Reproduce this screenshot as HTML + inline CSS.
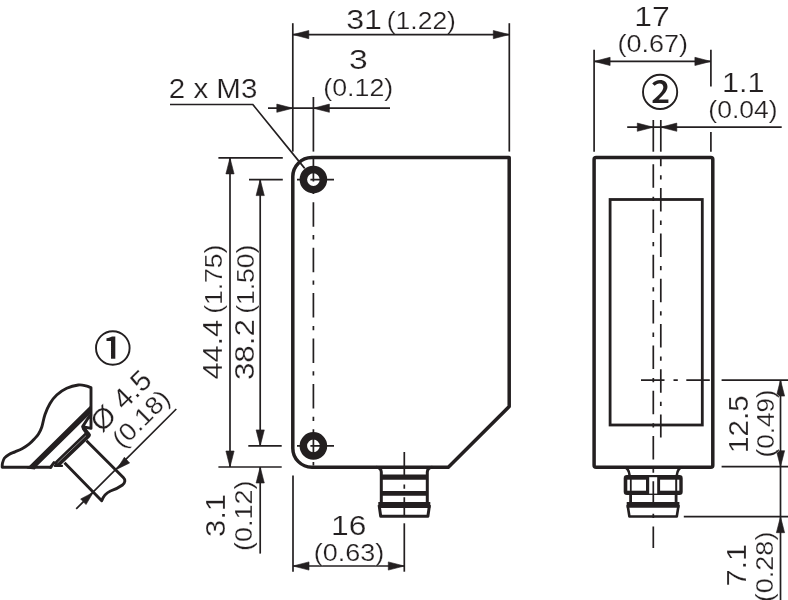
<!DOCTYPE html>
<html lang="en"><head><meta charset="utf-8"><title>Dimensional drawing</title>
<style>
html,body{margin:0;padding:0;background:#fff;}
body{width:788px;height:600px;overflow:hidden;}
svg{display:block;will-change:transform;}
svg text{font-family:"Liberation Sans",sans-serif;fill:#231f20;stroke:#fff;stroke-width:0.22px;}
svg text.c{font-family:"Liberation Sans","Noto Sans CJK JP",sans-serif;font-weight:500;stroke:none;}
</style></head><body>
<svg width="788" height="600" viewBox="0 0 788 600" fill="none" stroke="#231f20">
<rect x="0" y="0" width="788" height="600" fill="#fff" stroke="none"/>
<path d="M311.8,157.6 H509.2 V406.5 L448.3,467.2 H311.8 A19,19 0 0 1 292.8,448.2 V176.6 A19,19 0 0 1 311.8,157.6 Z" stroke-width="3.5" fill="none" stroke-linejoin="round"/>
<line x1="313.4" y1="156.9" x2="313.4" y2="465.5" stroke-width="1.7" stroke-dasharray="24.5 8.3 4.3 8.3"/>
<line x1="297" y1="179.6" x2="334" y2="179.6" stroke-width="1.7" stroke-dasharray="9 4.4 30"/>
<circle cx="313.4" cy="179.6" r="10.05" stroke-width="7.5"/>
<line x1="297" y1="445.9" x2="334" y2="445.9" stroke-width="1.7" stroke-dasharray="9 4.4 30"/>
<circle cx="313.4" cy="445.9" r="10.05" stroke-width="7.5"/>
<line x1="292.8" y1="23.2" x2="292.8" y2="151.6" stroke-width="1.7"/>
<line x1="313.4" y1="97" x2="313.4" y2="151.6" stroke-width="1.7"/>
<line x1="509.3" y1="23.2" x2="509.3" y2="151.6" stroke-width="1.7"/>
<line x1="292.8" y1="34.6" x2="509.3" y2="34.6" stroke-width="1.7"/>
<polygon points="292.80,34.60 308.80,38.70 308.80,30.50" fill="#231f20" stroke="#231f20" stroke-width="0.6" stroke-linejoin="round"/>
<polygon points="509.30,34.60 493.30,30.50 493.30,38.70" fill="#231f20" stroke="#231f20" stroke-width="0.6" stroke-linejoin="round"/>
<line x1="268" y1="108.2" x2="390" y2="108.2" stroke-width="1.7"/>
<polygon points="292.80,108.20 276.80,104.10 276.80,112.30" fill="#231f20" stroke="#231f20" stroke-width="0.6" stroke-linejoin="round"/>
<polygon points="313.40,108.20 329.40,112.30 329.40,104.10" fill="#231f20" stroke="#231f20" stroke-width="0.6" stroke-linejoin="round"/>
<path d="M170,104.5 H252.8 L304.7,168.4" stroke-width="1.7" fill="none" />
<line x1="218.4" y1="157.9" x2="282.8" y2="157.9" stroke-width="1.7"/>
<line x1="249" y1="179.6" x2="282.8" y2="179.6" stroke-width="1.7"/>
<line x1="248.3" y1="445.9" x2="281.7" y2="445.9" stroke-width="1.7"/>
<line x1="218.4" y1="467" x2="281.7" y2="467" stroke-width="1.7"/>
<line x1="230.0" y1="157.9" x2="230.0" y2="467" stroke-width="1.7"/>
<polygon points="230.00,157.90 225.90,173.90 234.10,173.90" fill="#231f20" stroke="#231f20" stroke-width="0.6" stroke-linejoin="round"/>
<polygon points="230.00,467.00 234.10,451.00 225.90,451.00" fill="#231f20" stroke="#231f20" stroke-width="0.6" stroke-linejoin="round"/>
<line x1="260.2" y1="179.6" x2="260.2" y2="445.9" stroke-width="1.7"/>
<polygon points="260.20,179.60 256.10,195.60 264.30,195.60" fill="#231f20" stroke="#231f20" stroke-width="0.6" stroke-linejoin="round"/>
<polygon points="260.20,445.90 264.30,429.90 256.10,429.90" fill="#231f20" stroke="#231f20" stroke-width="0.6" stroke-linejoin="round"/>
<line x1="260.2" y1="467" x2="260.2" y2="553.6" stroke-width="1.7"/>
<polygon points="260.20,467.00 256.10,483.00 264.30,483.00" fill="#231f20" stroke="#231f20" stroke-width="0.6" stroke-linejoin="round"/>
<line x1="293.0" y1="475.6" x2="293.0" y2="571.7" stroke-width="1.7"/>
<line x1="404.3" y1="523.3" x2="404.3" y2="571.7" stroke-width="1.7"/>
<line x1="293.0" y1="566" x2="404.3" y2="566" stroke-width="1.7"/>
<polygon points="293.00,566.00 309.00,570.10 309.00,561.90" fill="#231f20" stroke="#231f20" stroke-width="0.6" stroke-linejoin="round"/>
<polygon points="404.30,566.00 388.30,561.90 388.30,570.10" fill="#231f20" stroke="#231f20" stroke-width="0.6" stroke-linejoin="round"/>
<path d="M376.3,467.2 Q381.1,467.5 381.3,472 V504 M432.3,467.2 Q427.5,467.5 427.3,472 V504" stroke-width="3.0" fill="none" />
<line x1="381.3" y1="477.2" x2="427.3" y2="477.2" stroke-width="5.2"/>
<line x1="381.3" y1="493.4" x2="427.3" y2="493.4" stroke-width="4.7"/>
<line x1="378.3" y1="505" x2="430.3" y2="505" stroke-width="5.8"/>
<path d="M379.1,505 L380.7,516.3 H427.90000000000003 L429.5,505" stroke-width="3.0" fill="none" stroke-linejoin="round"/>
<line x1="404.3" y1="452" x2="404.3" y2="517" stroke-width="1.7" stroke-dasharray="23.5 9 4.3 8.5"/>
<rect x="594.1" y="157.6" width="118.69999999999993" height="309.6" rx="2" stroke-width="3.5"/>
<rect x="610.1" y="199.5" width="92.19999999999993" height="225.5" stroke-width="2.8"/>
<line x1="594.1" y1="49.7" x2="594.1" y2="151.8" stroke-width="1.7"/>
<line x1="710.9" y1="49.7" x2="710.9" y2="86.6" stroke-width="1.7"/>
<line x1="710.9" y1="132" x2="710.9" y2="151.8" stroke-width="1.7"/>
<line x1="594.1" y1="61.4" x2="710.9" y2="61.4" stroke-width="1.7"/>
<polygon points="594.10,61.40 610.10,65.50 610.10,57.30" fill="#231f20" stroke="#231f20" stroke-width="0.6" stroke-linejoin="round"/>
<polygon points="710.90,61.40 694.90,57.30 694.90,65.50" fill="#231f20" stroke="#231f20" stroke-width="0.6" stroke-linejoin="round"/>
<line x1="653.3" y1="120" x2="653.3" y2="151.7" stroke-width="1.7"/>
<line x1="660.8" y1="120" x2="660.8" y2="151.7" stroke-width="1.7"/>
<line x1="627.2" y1="127.2" x2="781.7" y2="127.2" stroke-width="1.7"/>
<polygon points="653.30,127.20 637.30,123.10 637.30,131.30" fill="#231f20" stroke="#231f20" stroke-width="0.6" stroke-linejoin="round"/>
<polygon points="660.80,127.20 676.80,131.30 676.80,123.10" fill="#231f20" stroke="#231f20" stroke-width="0.6" stroke-linejoin="round"/>
<line x1="660.8" y1="156.7" x2="660.8" y2="437.6" stroke-width="1.7" stroke-dasharray="23.5 9 4.3 8.5" stroke-dashoffset="13.9"/>
<line x1="641" y1="380.1" x2="710" y2="380.1" stroke-width="1.7" stroke-dasharray="23.5 9 4.3 8.5"/>
<line x1="721.6" y1="380.1" x2="788" y2="380.1" stroke-width="1.7"/>
<line x1="721.6" y1="466.7" x2="788" y2="466.7" stroke-width="1.7"/>
<line x1="683.8" y1="516.7" x2="788" y2="516.7" stroke-width="1.7"/>
<line x1="780.5" y1="380.1" x2="780.5" y2="600" stroke-width="1.7"/>
<polygon points="780.50,380.10 776.40,396.10 784.60,396.10" fill="#231f20" stroke="#231f20" stroke-width="0.6" stroke-linejoin="round"/>
<polygon points="780.50,466.70 784.60,450.70 776.40,450.70" fill="#231f20" stroke="#231f20" stroke-width="0.6" stroke-linejoin="round"/>
<polygon points="780.50,516.70 776.40,532.70 784.60,532.70" fill="#231f20" stroke="#231f20" stroke-width="0.6" stroke-linejoin="round"/>
<path d="M623.7,467.2 Q628.8000000000001,467.5 629.6,475.5 M682.7,467.2 Q677.6,467.5 676.8000000000001,475.5" stroke-width="2.6" fill="none" />
<rect x="623.7" y="475" width="59" height="20" rx="3.2" fill="#231f20" stroke="none"/>
<rect x="627.30" y="479.7" width="2.60" height="11" fill="#fff" stroke="none"/>
<rect x="631.70" y="479.7" width="14.30" height="11" fill="#fff" stroke="none"/>
<rect x="660.10" y="479.7" width="15.10" height="11" fill="#fff" stroke="none"/>
<rect x="677.20" y="479.7" width="2.10" height="11" fill="#fff" stroke="none"/>
<rect x="649.2" y="477.2" width="8" height="16.4" fill="#fff" stroke="none"/>
<line x1="630.6" y1="494" x2="630.6" y2="503" stroke-width="2.8"/>
<line x1="676.1" y1="494" x2="676.1" y2="503" stroke-width="2.8"/>
<line x1="626.7" y1="504.8" x2="679.4000000000001" y2="504.8" stroke-width="5.8"/>
<path d="M627.6,505 L629.4000000000001,516.5 H676.8000000000001 L678.6,505" stroke-width="2.6" fill="none" stroke-linejoin="round"/>
<line x1="653.3" y1="164.2" x2="653.3" y2="548" stroke-width="1.7" stroke-dasharray="23.5 9 4.3 8.5"/>
<path d="M51,467.3 L2.2,467.2 C2.25,466.50 2.12,464.53 2.5,463 C2.88,461.47 3.42,459.43 4.5,458 C5.58,456.57 7.25,455.43 9,454.4 C10.75,453.37 12.83,452.73 15,451.8 C17.17,450.87 19.67,450.07 22,448.8 C24.33,447.53 26.95,445.83 29,444.2 C31.05,442.57 32.72,440.70 34.3,439 C35.88,437.30 37.25,436.00 38.5,434 C39.75,432.00 40.72,430.25 41.8,427 C42.88,423.75 43.63,418.42 45,414.5 C46.37,410.58 48.05,406.75 50,403.5 C51.95,400.25 53.92,397.53 56.7,395 C59.48,392.47 63.10,389.97 66.7,388.3 C70.30,386.63 75.08,385.42 78.3,385 C81.52,384.58 83.88,385.35 86,385.8 C88.12,386.25 90.17,387.38 91,387.7 V428.4 L82.6,426.6 L89.8,415.5" stroke-width="2.9" fill="none" stroke-linejoin="round" stroke-linecap="round"/>
<polygon points="26.6,468.5 34.8,469.4 37.2,466.0 91.6,412.6 91.6,404.9 91.0,404.9" fill="#231f20" stroke="none"/>
<path d="M50.5,467.4 L54,462.6" stroke-width="2.9" fill="none" stroke-linecap="round"/>
<line x1="57.8" y1="463.4" x2="87.4" y2="435.0" stroke-width="6.6" stroke-linecap="round"/>
<path d="M54.8,465.9 H62" stroke-width="2.2" fill="none" stroke-linecap="round"/>
<line x1="57.6" y1="462.9" x2="86.2" y2="435.5" stroke="#fff" stroke-opacity="0.8" stroke-width="0.6"/>
<line x1="83.8" y1="428.2" x2="88.3" y2="434.6" stroke-width="4.2" stroke-linecap="round"/>
<path d="M86.5,440.8 L123.3,477.5 Q126.8,481 122.5,485 Q117.5,488.6 110.5,491 Q104,494 101.7,500.8 L64.5,462.8" stroke-width="2.9" fill="none" stroke-linejoin="round"/>
<line x1="176.3" y1="409" x2="76.2" y2="508.8" stroke-width="1.7"/>
<polygon points="116.90,469.20 129.62,463.00 124.40,457.20" fill="#231f20" stroke="#231f20" stroke-width="0.6" stroke-linejoin="round"/>
<polygon points="93.20,492.40 80.65,498.94 86.03,504.59" fill="#231f20" stroke="#231f20" stroke-width="0.6" stroke-linejoin="round"/>
<clipPath id="k1"><circle cx="112.8" cy="348.0" r="14.600000000000001"/></clipPath>
<text x="112.2" y="363.6" font-size="42" class="c" text-anchor="middle" clip-path="url(#k1)">①</text>
<circle cx="112.8" cy="348.0" r="16.8" stroke-width="1.9"/>
<clipPath id="k2"><circle cx="660.1" cy="91.9" r="14.900000000000002"/></clipPath>
<text x="660.1" y="107.5" font-size="42" class="c" text-anchor="middle" clip-path="url(#k2)">②</text>
<circle cx="660.1" cy="91.9" r="17.1" stroke-width="1.9"/>
<text x="346.19" y="28.6" font-size="28.2" textLength="35.81" lengthAdjust="spacingAndGlyphs" >31</text>
<text x="386.74" y="28.6" font-size="24.7" textLength="69.21" lengthAdjust="spacingAndGlyphs" >(1.22)</text>
<text x="349.04" y="69.4" font-size="28.2" textLength="18.73" lengthAdjust="spacingAndGlyphs" >3</text>
<text x="323.33" y="96.4" font-size="24.7" textLength="69.84" lengthAdjust="spacingAndGlyphs" >(0.12)</text>
<text x="168.83" y="98.2" font-size="28.2" textLength="88.46" lengthAdjust="spacingAndGlyphs" >2 x M3</text>
<text x="634.21" y="25.7" font-size="28.2" textLength="35.46" lengthAdjust="spacingAndGlyphs" >17</text>
<text x="617.41" y="52" font-size="24.7" textLength="70.57" lengthAdjust="spacingAndGlyphs" >(0.67)</text>
<text x="721.9" y="91.7" font-size="28.2" textLength="42.56" lengthAdjust="spacingAndGlyphs" >1.1</text>
<text x="708.34" y="118" font-size="24.7" textLength="69.31" lengthAdjust="spacingAndGlyphs" >(0.04)</text>
<text x="331.12" y="534.8" font-size="28.2" textLength="35.3" lengthAdjust="spacingAndGlyphs" >16</text>
<text x="313.71" y="561" font-size="24.7" textLength="70.47" lengthAdjust="spacingAndGlyphs" >(0.63)</text>
<text x="222.5" y="379.59" font-size="28.2" textLength="59.78" lengthAdjust="spacingAndGlyphs" transform="rotate(-90 222.5 379.59)" >44.4</text>
<text x="222.5" y="313.86" font-size="24.7" textLength="69.31" lengthAdjust="spacingAndGlyphs" transform="rotate(-90 222.5 313.86)" >(1.75)</text>
<text x="253.7" y="380.07" font-size="28.2" textLength="60.98" lengthAdjust="spacingAndGlyphs" transform="rotate(-90 253.7 380.07)" >38.2</text>
<text x="253.7" y="313.86" font-size="24.7" textLength="69.31" lengthAdjust="spacingAndGlyphs" transform="rotate(-90 253.7 313.86)" >(1.50)</text>
<text x="225" y="536.96" font-size="28.2" textLength="43.04" lengthAdjust="spacingAndGlyphs" transform="rotate(-90 225 536.96)" >3.1</text>
<text x="252.3" y="550.88" font-size="24.7" textLength="70.26" lengthAdjust="spacingAndGlyphs" transform="rotate(-90 252.3 550.88)" >(0.12)</text>
<text x="748.4" y="452.92" font-size="28.2" textLength="57.54" lengthAdjust="spacingAndGlyphs" transform="rotate(-90 748.4 452.92)" >12.5</text>
<text x="774.5" y="457.43" font-size="24.7" textLength="67.95" lengthAdjust="spacingAndGlyphs" transform="rotate(-90 774.5 457.43)" >(0.49)</text>
<text x="746" y="586.62" font-size="28.2" textLength="42.78" lengthAdjust="spacingAndGlyphs" transform="rotate(-90 746 586.62)" >7.1</text>
<text x="773" y="602.19" font-size="24.7" textLength="70.57" lengthAdjust="spacingAndGlyphs" transform="rotate(-90 773 602.19)" >(0.28)</text>
<text x="101.8" y="433.4" font-size="28.2" textLength="73" lengthAdjust="spacingAndGlyphs" transform="rotate(-45 101.8 433.4)" >Ø 4.5</text>
<text x="122.3" y="449.2" font-size="24.7" textLength="69.8" lengthAdjust="spacingAndGlyphs" transform="rotate(-45 122.3 449.2)" >(0.18)</text>
</svg>
</body></html>
